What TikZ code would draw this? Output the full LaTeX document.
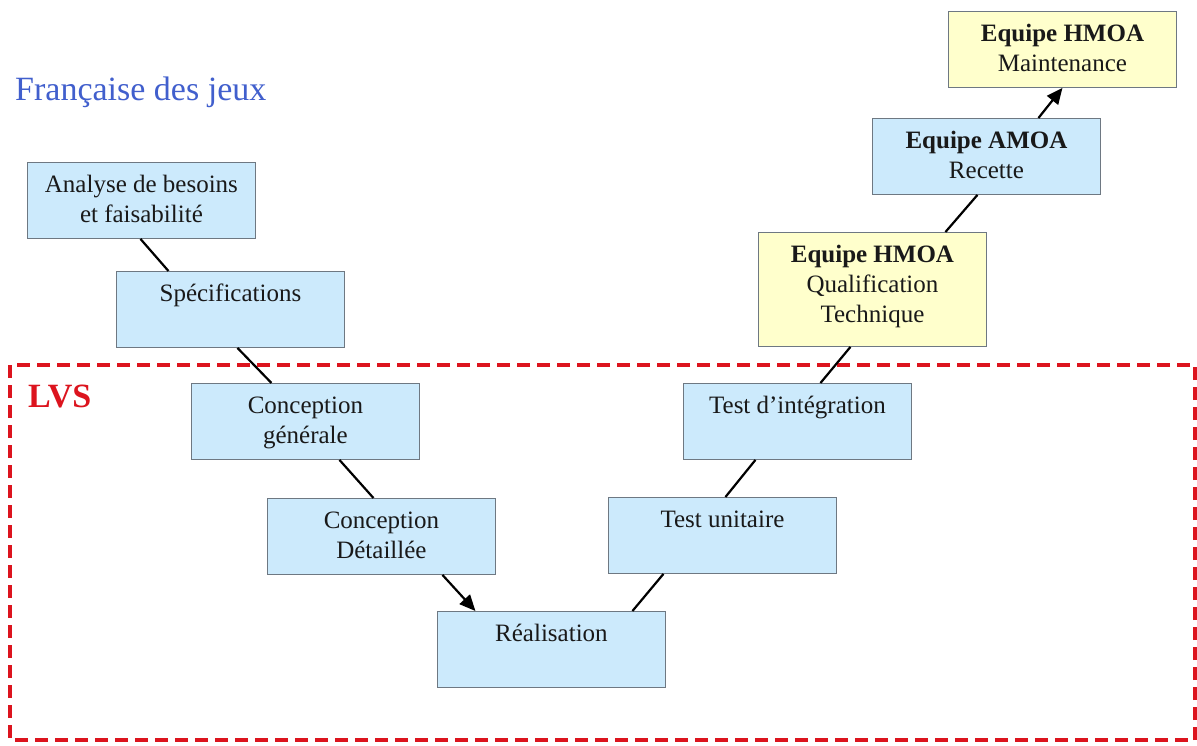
\documentclass[tikz,border=0pt]{standalone}
\usepackage{fontspec}
\setmainfont{Liberation Serif}
\usetikzlibrary{arrows.meta}
\definecolor{boxblue}{RGB}{204,234,252}
\definecolor{boxyellow}{RGB}{255,255,204}
\definecolor{boxline}{RGB}{110,120,130}
\definecolor{lvsred}{RGB}{220,20,30}
\definecolor{titleblue}{RGB}{65,95,205}
\definecolor{txt}{RGB}{25,25,25}
\newcommand\bxt[2]{\parbox[t][#1][t]{228pt}{\centering\fontsize{25}{30}\selectfont\rule{0pt}{30pt}#2}}
\tikzset{
  vbox/.style={draw=boxline, line width=0.9pt, inner sep=0pt, anchor=north west, text=txt},
  bluebox/.style={vbox, fill=boxblue},
  yellowbox/.style={vbox, fill=boxyellow},
  link/.style={line width=2.2pt, black},
  arrowlink/.style={link, -{Triangle[length=16pt,width=14pt]}},
  frame/.style={draw=lvsred, line width=3.5pt, dash pattern=on 13pt off 7pt}
}
\begin{document}
\begin{tikzpicture}[x=1pt,y=-1pt]
\useasboundingbox (0,0) rectangle (1197,745);
\fill[white] (0,0) rectangle (1197,745);
% LVS frame
\draw[frame] (10,365) rectangle (1195,740);
\node[anchor=base west, inner sep=0pt, text=lvsred, font=\fontsize{34}{40}\selectfont\bfseries] (lvs) at (28,407) {LVS};
\node[anchor=base west, inner sep=0pt, text=titleblue, font=\fontsize{34}{40}\selectfont] (title) at (15,100) {Française des jeux};
% boxes
\node[bluebox] (ana) at (27,162) {\bxt{76pt}{Analyse de besoins\\et faisabilité}};
\node[bluebox] (spec) at (116,271) {\bxt{76pt}{Spécifications}};
\node[bluebox] (cg) at (191,383) {\bxt{76pt}{Conception\\générale}};
\node[bluebox] (cd) at (267,498) {\bxt{76pt}{Conception\\Détaillée}};
\node[bluebox] (real) at (437,611) {\bxt{76pt}{Réalisation}};
\node[bluebox] (tu) at (608,497) {\bxt{76pt}{Test unitaire}};
\node[bluebox] (ti) at (683,383) {\bxt{76pt}{Test d’intégration}};
\node[yellowbox] (qual) at (758,232) {\bxt{114pt}{\textbf{Equipe HMOA}\\Qualification\\Technique}};
\node[bluebox] (rec) at (872,118) {\bxt{76pt}{\textbf{Equipe AMOA}\\Recette}};
\node[yellowbox] (maint) at (948,11) {\bxt{76pt}{\textbf{Equipe HMOA}\\Maintenance}};
% connectors
\draw[link] ([xshift=-1pt]ana.south) -- ([xshift=-62pt]spec.north);
\draw[link] ([xshift=7pt]spec.south) -- ([xshift=-34pt]cg.north);
\draw[link] ([xshift=34pt]cg.south) -- ([xshift=-8pt]cd.north);
\draw[arrowlink] ([xshift=61pt]cd.south) -- ([xshift=-76pt]real.north);
\draw[link] ([xshift=81pt]real.north) -- ([xshift=-59pt]tu.south);
\draw[link] ([xshift=3pt]tu.north) -- ([xshift=-42pt]ti.south);
\draw[link] ([xshift=23pt]ti.north) -- ([xshift=-22pt]qual.south);
\draw[link] ([xshift=73pt]qual.north) -- ([xshift=-9pt]rec.south);
\draw[arrowlink] ([xshift=52pt]rec.north) -- ([xshift=0pt]maint.south);
\end{tikzpicture}
\end{document}
